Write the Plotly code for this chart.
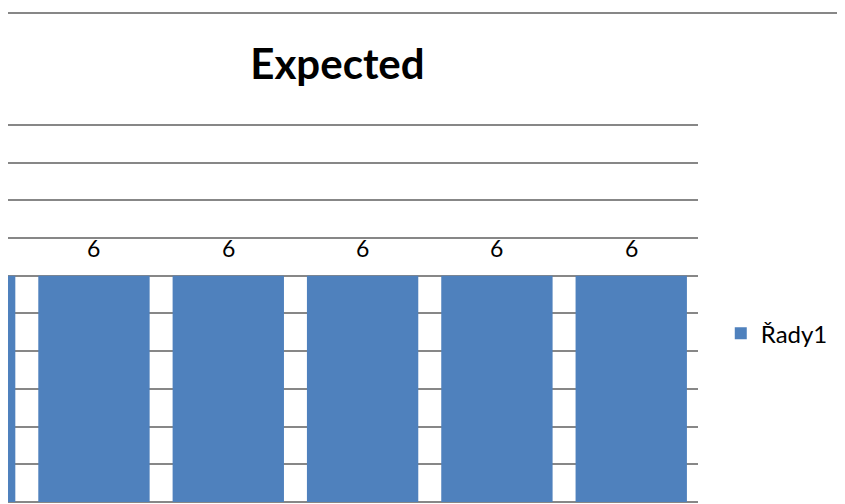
import plotly.graph_objects as go

categories = ["0", "1", "2", "3", "4", "5"]
values = [6, 6, 6, 6, 6, 6]
series_name = "Řady1"
title_text = "Expected"

BAR_COLOR = "#4F81BD"
GRID_COLOR = "#878787"
FONT = "Lato"

fig = go.Figure()
fig.add_trace(go.Bar(
    x=categories, y=values, name=series_name,
    marker=dict(color=BAR_COLOR, line=dict(width=0)),
    width=0.829,
    showlegend=True,
))

for c, v in zip(categories, values):
    fig.add_annotation(x=c, y=v, text=str(v), showarrow=False,
                       yanchor="bottom", yshift=12,
                       font=dict(family=FONT, size=23, color="black"))

plot_top = 113.2
plot_bottom = 504 - 9.5
line_y = (plot_bottom - 5) / (plot_bottom - plot_top)

fig.add_shape(type="line", xref="paper", yref="paper",
              x0=0, x1=1.22, y0=line_y, y1=line_y,
              line=dict(color=GRID_COLOR, width=2))

fig.update_layout(
    width=845, height=504,
    margin=dict(l=0, r=155, t=plot_top, b=9.5),
    paper_bgcolor="white", plot_bgcolor="white",
    title=dict(text="<b>" + title_text + "</b>", x=0.4775, xref="paper", xanchor="center",
               y=0.889, yref="container", yanchor="middle",
               font=dict(family=FONT, size=42, color="black")),
    xaxis=dict(type="category", range=[0.360, 5.497], showticklabels=False,
               showgrid=False, zeroline=False, showline=False, ticks=""),
    yaxis=dict(range=[0, 10.1], dtick=1, showticklabels=False, showgrid=True,
               gridcolor=GRID_COLOR, gridwidth=2, zeroline=True, zerolinecolor=GRID_COLOR,
               zerolinewidth=2, showline=False, ticks=""),
    legend=dict(x=1.033, y=(plot_bottom - 326) / (plot_bottom - plot_top),
                xanchor="left", yanchor="middle",
                font=dict(family=FONT, size=24, color="black"),
                bgcolor="rgba(0,0,0,0)"),
)

fig.write_html("out.html")
